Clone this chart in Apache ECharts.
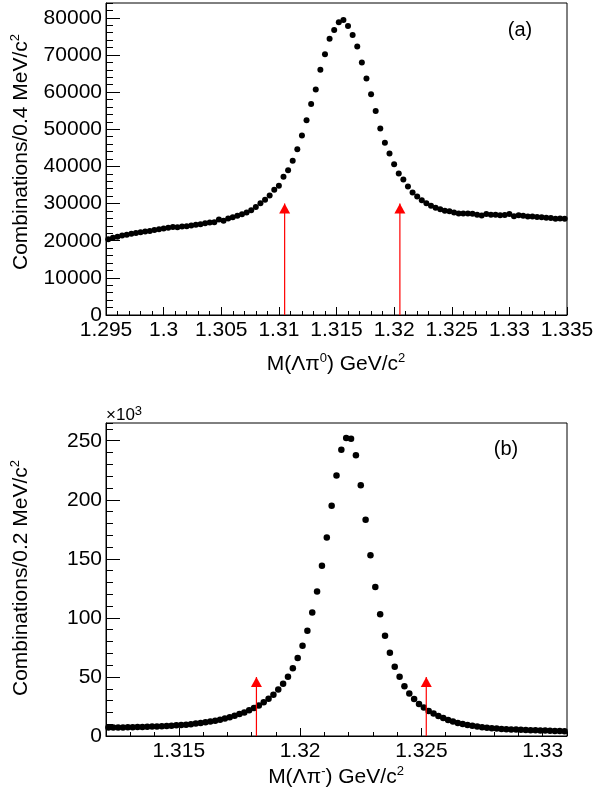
<!DOCTYPE html>
<html><head><meta charset="utf-8">
<script src="https://cdn.jsdelivr.net/npm/echarts@6/dist/echarts.min.js"></script>
<style>html,body{margin:0;padding:0;background:#fff}#c{width:609px;height:795px}</style>
</head><body><div id="c"></div>
<script>
// ---- Panel (a): M(Lambda pi0), bins of 0.4 MeV ----
const binMinA = 1.295, binMaxA = 1.335, binWidthA = 0.0004;
const countsA = [
  20400,20800,21100,21400,21600,21900,22100,22300,22500,22600,
  22900,23100,23300,23500,23700,23600,23800,23900,24100,24300,
  24400,24700,24900,25000,25700,25400,26000,26300,26700,27100,
  27600,28200,29100,30100,31000,32200,33700,34800,37200,39000,
  41500,44600,48300,52400,56800,60700,66000,70200,74400,76700,
  78800,79400,77800,75400,72300,68000,63700,59400,54900,50200,
  46400,43500,40600,38100,36500,34600,33000,31900,30900,30100,
  29400,28900,28500,28100,27900,27600,27300,27300,27350,27250,
  27000,26800,27200,27000,27000,26850,26900,27200,26600,26850,
  26750,26550,26550,26400,26300,26200,26100,25900,26000,25900
];
const yMaxA = 84000;
const arrowsA = [1.3105, 1.3205];
const arrowTipA = 30000;

// ---- Panel (b): M(Lambda pi-), bins of 0.2 MeV, counts in units of 10^3 ----
const binMinB = 1.312, binMaxB = 1.331, binWidthB = 0.0002;
const countsB = [
  7.3,7.2,7.2,7.3,7.4,7.5,7.6,7.7,7.8,8.0,
  8.1,8.3,8.5,8.7,9.0,9.3,9.6,10.0,10.5,11.0,
  11.6,12.2,13.0,13.8,14.8,15.9,17.2,18.6,20.0,21.7,
  23.7,25.9,28.6,31.6,35.0,39.3,44.3,50.1,57.4,66.0,
  76.4,89.2,104.5,122.3,144.1,168.1,195.0,220.5,242.4,252.4,
  251.6,237.8,212.4,183.1,153.1,126.2,103.1,84.9,70.5,58.6,
  50.1,42.2,36.0,31.3,27.0,24.1,21.2,19.0,17.0,15.2,
  13.6,12.3,11.1,10.2,9.3,8.6,8.0,7.5,7.0,6.6,
  6.3,6.0,5.8,5.6,5.4,5.2,5.0,4.9,4.8,4.7,
  4.6,4.5,4.3,4.2,4.1
];
const yMaxB = 265;
const arrowsB = [1.3182, 1.3252];
const arrowTipB = 50;

const FONT = 'Liberation Sans, Arial, Helvetica, sans-serif';
const TICK_FS = 21;
const TITLE_FS = 21;

const ptsA = countsA.map((v, i) => [binMinA + (i + 0.5) * binWidthA, v]);
const ptsB = countsB.map((v, i) => [binMinB + (i + 0.5) * binWidthB, v]);

const fmtX = v => String(parseFloat(v.toFixed(4)));

function majorAxis(extra, fmt) {
  return Object.assign({
    type: 'value',
    axisLine: { show: true, lineStyle: { color: '#000', width: 1 } },
    axisTick: { show: true, inside: true, lineStyle: { color: '#000', width: 1 } },
    axisLabel: { color: '#000', fontSize: TICK_FS, fontFamily: FONT, formatter: fmt },
    splitLine: { show: false }
  }, extra);
}
function minorAxis(extra) {
  return Object.assign({
    type: 'value',
    axisLine: { show: false },
    axisTick: { show: true, inside: true, lineStyle: { color: '#000', width: 1 } },
    axisLabel: { show: false },
    splitLine: { show: false }
  }, extra);
}

const xAxis = [
  majorAxis({ gridIndex: 0, position: 'bottom', min: binMinA, max: binMaxA, interval: 0.005,
    axisTick: { show: true, inside: true, length: 8, lineStyle: { color: '#000' } } }, fmtX),
  minorAxis({ gridIndex: 0, position: 'bottom', min: binMinA, max: binMaxA, interval: 0.001,
    axisTick: { show: true, inside: true, length: 4, lineStyle: { color: '#000' } } }),
  majorAxis({ gridIndex: 1, position: 'bottom', min: binMinB, max: binMaxB, splitNumber: 4,
    axisTick: { show: true, inside: true, length: 8, lineStyle: { color: '#000' } } }, fmtX),
  minorAxis({ gridIndex: 1, position: 'bottom', min: binMinB, max: binMaxB, interval: 0.001,
    axisTick: { show: true, inside: true, length: 4, lineStyle: { color: '#000' } } })
];
xAxis[0].axisLabel.margin = 5;
xAxis[2].axisLabel.margin = 5;
xAxis[2].axisLabel.showMinLabel = false;
xAxis[2].axisLabel.showMaxLabel = false;

const yAxis = [
  majorAxis({ gridIndex: 0, position: 'left', min: 0, max: yMaxA, interval: 10000,
    axisTick: { show: true, inside: true, length: 14, lineStyle: { color: '#000' } } }, v => String(v)),
  minorAxis({ gridIndex: 0, position: 'left', min: 0, max: yMaxA, interval: 2000,
    axisTick: { show: true, inside: true, length: 7, lineStyle: { color: '#000' } } }),
  majorAxis({ gridIndex: 1, position: 'left', min: 0, max: yMaxB, interval: 50,
    axisTick: { show: true, inside: true, length: 14, lineStyle: { color: '#000' } } }, v => String(v)),
  minorAxis({ gridIndex: 1, position: 'left', min: 0, max: yMaxB, interval: 10,
    axisTick: { show: true, inside: true, length: 7, lineStyle: { color: '#000' } } })
];
yAxis[0].axisLabel.margin = 4;
yAxis[0].axisLabel.showMaxLabel = false;
yAxis[2].axisLabel.margin = 4;
yAxis[2].axisLabel.showMaxLabel = false;

function arrowSeries(xs, tip, xi, yi) {
  return xs.map(x => ({
    type: 'line', xAxisIndex: xi, yAxisIndex: yi, z: 5,
    lineStyle: { color: '#ff0000', width: 1.2 },
    itemStyle: { color: '#ff0000', opacity: 1 },
    showSymbol: true, silent: true,
    data: [
      { value: [x, 0], symbol: 'none' },
      { value: [x, tip], symbol: 'triangle', symbolSize: [11, 10], symbolOffset: [0, '50%'] }
    ]
  }));
}

const sup = { fontSize: 13, fontFamily: FONT, verticalAlign: 'top', lineHeight: 12, fill: '#000' };
const nrm = { fontSize: TITLE_FS, fontFamily: FONT, lineHeight: 24, fill: '#000' };

function label(x, y, text, rot, fs) {
  return {
    type: 'text', x: x, y: y, rotation: rot || 0,
    style: {
      text: text, align: 'center', verticalAlign: 'middle',
      rich: { n: Object.assign({}, nrm, fs ? { fontSize: fs } : {}), s: sup }
    }
  };
}

const option = {
  animation: false,
  backgroundColor: '#fff',
  grid: [
    { left: 106, right: 42, top: 3, height: 312, show: true, borderColor: '#000', borderWidth: 1, backgroundColor: 'transparent' },
    { left: 106, right: 42, top: 423, height: 313, show: true, borderColor: '#000', borderWidth: 1, backgroundColor: 'transparent' }
  ],
  xAxis: xAxis,
  yAxis: yAxis,
  series: [
    { type: 'scatter', xAxisIndex: 0, yAxisIndex: 0, data: ptsA, symbol: 'circle', symbolSize: 6,
      itemStyle: { color: '#000', opacity: 1 }, z: 3 },
    { type: 'scatter', xAxisIndex: 2, yAxisIndex: 2, data: ptsB, symbol: 'circle', symbolSize: 6.5,
      itemStyle: { color: '#000', opacity: 1 }, z: 3 }
  ].concat(arrowSeries(arrowsA, arrowTipA, 0, 0), arrowSeries(arrowsB, arrowTipB, 2, 2)),
  graphic: [
    label(21, 152, '{n|Combinations/0.4 MeV/c}{s|2}', Math.PI / 2),
    label(21, 578, '{n|Combinations/0.2 MeV/c}{s|2}', Math.PI / 2),
    label(336, 364, '{n|M(Λπ}{s|0}{n|) GeV/c}{s|2}', 0),
    label(336, 777, '{n|M(Λπ}{s|-}{n|) GeV/c}{s|2}', 0),
    label(520, 30, '{n|(a)}', 0, 20),
    label(506, 449, '{n|(b)}', 0, 20),
    {
      type: 'text', x: 106, y: 415,
      style: { text: '{m|×10}{s|3}', align: 'left', verticalAlign: 'middle',
        rich: { m: { fontSize: 17, fontFamily: FONT, lineHeight: 20, fill: '#000' }, s: sup } }
    }
  ]
};

const chart = echarts.init(document.getElementById('c'), null, { renderer: 'canvas' });
chart.setOption(option);
</script>
</body></html>
